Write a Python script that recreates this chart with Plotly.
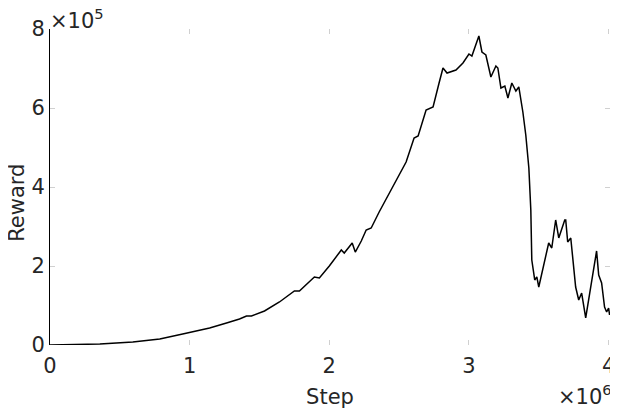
import numpy as np
import plotly.graph_objects as go

# training curve (steps in 1e6, reward in 1e5)
step_m = [0.000, 0.357, 0.593, 0.786, 0.950, 1.143, 1.264, 1.357, 1.407, 1.443,
          1.536, 1.643, 1.750, 1.786, 1.893, 1.929, 2.000, 2.036, 2.086, 2.107,
          2.164, 2.186, 2.229, 2.264, 2.300, 2.357, 2.429, 2.479, 2.550, 2.607,
          2.636, 2.693, 2.743, 2.786, 2.814, 2.843, 2.907, 2.957, 3.000, 3.021,
          3.071, 3.093, 3.121, 3.157, 3.193, 3.207, 3.229, 3.257, 3.279, 3.307,
          3.336, 3.357, 3.386, 3.407, 3.429, 3.443, 3.450, 3.471, 3.486, 3.500,
          3.550, 3.571, 3.593, 3.621, 3.643, 3.686, 3.693, 3.707, 3.729, 3.764,
          3.786, 3.807, 3.836, 3.914, 3.929, 3.950, 3.971, 3.986, 4.000, 4.007]
reward_e5 = [0.000, 0.025, 0.076, 0.152, 0.278, 0.430, 0.557, 0.658, 0.734, 0.734,
             0.861, 1.089, 1.367, 1.367, 1.722, 1.696, 2.000, 2.177, 2.405, 2.329,
             2.582, 2.354, 2.633, 2.911, 2.962, 3.367, 3.848, 4.177, 4.633, 5.241,
             5.291, 5.949, 6.025, 6.633, 7.013, 6.886, 6.962, 7.139, 7.367, 7.316,
             7.823, 7.418, 7.342, 6.785, 7.063, 7.013, 6.506, 6.557, 6.253, 6.633,
             6.430, 6.532, 5.899, 5.316, 4.481, 3.418, 2.152, 1.646, 1.722, 1.468,
             2.228, 2.582, 2.456, 3.165, 2.709, 3.165, 3.165, 2.608, 2.709, 1.468,
             1.139, 1.316, 0.684, 2.380, 1.772, 1.570, 0.962, 0.835, 0.937, 0.759]

x_ticks = [0, 1, 2, 3, 4]
y_ticks = [0, 2, 4, 6, 8]

steps = np.array(step_m) * 1e6
rewards = np.array(reward_e5) * 1e5

label_col = '#262626'
tick_col = '#d0d0d0'
font = dict(family='DejaVu Sans', size=21, color=label_col)

fig = go.Figure()
fig.add_trace(go.Scatter(x=steps, y=rewards, mode='lines',
                         line=dict(color='black', width=1.5), showlegend=False))
# invisible trace so the mirrored tick axes get drawn
fig.add_trace(go.Scatter(x=[0], y=[0], xaxis='x2', yaxis='y2', mode='markers',
                         marker=dict(opacity=0), showlegend=False, hoverinfo='skip'))

xrange = [0, 4.01e6]
yrange = [0, 8e5]

# page body adds an 8px offset, so the figure is 8px smaller than the window
fig.update_layout(
    width=610, height=402,
    margin=dict(l=42, r=8, t=21, b=65),
    paper_bgcolor='white', plot_bgcolor='white',
    font=font,
    xaxis=dict(range=xrange, tickvals=[v * 1e6 for v in x_ticks],
               ticktext=[str(v) for v in x_ticks], showgrid=False, zeroline=False,
               showline=False, ticks='inside', ticklen=5, tickcolor=tick_col,
               tickfont=font, automargin=False, ticklabelstandoff=6,
               title=dict(text='Step', font=font, standoff=12)),
    yaxis=dict(range=yrange, tickvals=[v * 1e5 for v in y_ticks],
               ticktext=[str(v) for v in y_ticks], showgrid=False, zeroline=False,
               showline=True, linecolor='black', linewidth=1, ticks='inside',
               ticklen=5, tickcolor=tick_col, tickfont=font, automargin=False),
    xaxis2=dict(range=xrange, overlaying='x', side='top', anchor='y',
                tickvals=[v * 1e6 for v in x_ticks], showticklabels=False,
                showgrid=False, zeroline=False, showline=False, ticks='inside',
                ticklen=5, tickcolor=tick_col, automargin=False),
    yaxis2=dict(range=yrange, overlaying='y', side='right', anchor='x',
                tickvals=[v * 1e5 for v in y_ticks], showticklabels=False,
                showgrid=False, zeroline=False, showline=False, ticks='inside',
                ticklen=5, tickcolor=tick_col, automargin=False),
    annotations=[
        dict(text='Reward', xref='paper', yref='paper', x=0, y=0.45,
             xanchor='center', yanchor='middle', textangle=-90, showarrow=False,
             font=font, xshift=-33),
        dict(text='×10<sup>5</sup>', xref='paper', yref='paper', x=0, y=1,
             xanchor='left', yanchor='bottom', showarrow=False, font=font,
             xshift=-2, yshift=-6),
        dict(text='×10<sup>6</sup>', xref='paper', yref='paper', x=1, y=0,
             xanchor='right', yanchor='top', showarrow=False, font=font,
             xshift=4, yshift=-34),
    ],
)

fig.write_html("out.html")
